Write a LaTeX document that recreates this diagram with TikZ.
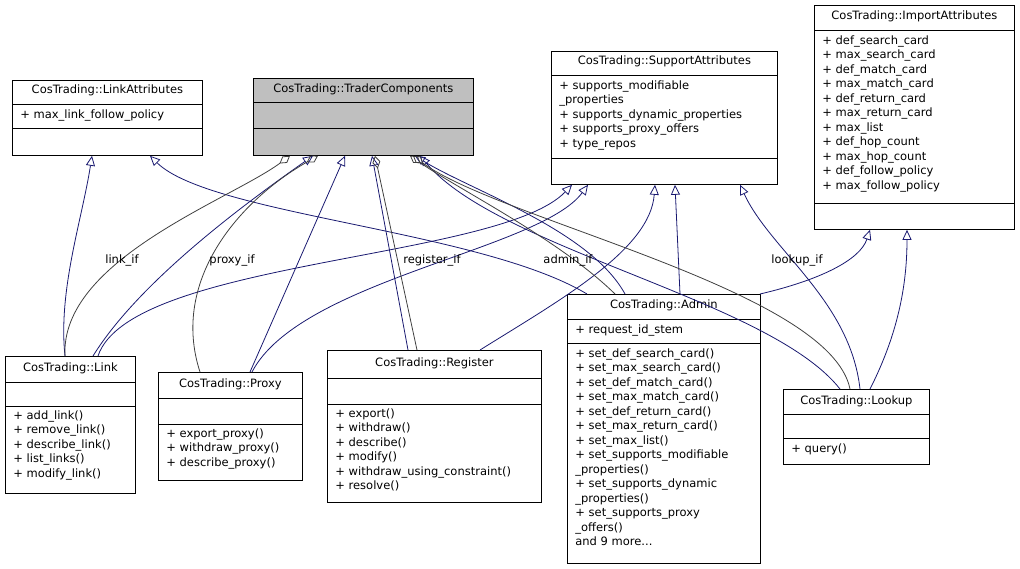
\documentclass[tikz,border=0pt]{standalone}
\usepackage{fontspec}
\setmainfont{DejaVu Sans}
\usetikzlibrary{arrows.meta}
\definecolor{inhcol}{RGB}{25,25,112}
\definecolor{usecol}{RGB}{64,64,64}
\definecolor{headcol}{RGB}{191,191,191}
\tikzset{
  every path/.style={line width=0.8pt},
  cls/.style={draw, anchor=north west, inner sep=0pt},
  txt/.style={anchor=north west, align=left, inner sep=0pt, font=\fontsize{11.5}{14.5}\selectfont},
  ttl/.style={anchor=north, inner sep=0pt, font=\fontsize{11.5}{14.5}\selectfont},
  inh/.style={inhcol, -{Triangle[open, length=10pt, width=9pt]}},
  use/.style={usecol, -{Diamond[open, length=13pt, width=8pt]}},
  lbl/.style={font=\fontsize{11.5}{13}\selectfont}
}
\begin{document}
\begin{tikzpicture}[x=1pt, y=-1pt]
    \useasboundingbox (0,0) rectangle (1020,568);

    % Classes
    \node[cls, minimum width=190, minimum height=75] (linkattr) at (12,80) {};
    \draw (12,104) -- (202,104) (12,128) -- (202,128);
    \node[ttl] at ([yshift=-4pt]linkattr.north) {CosTrading::LinkAttributes};
    \node[txt] at (20,109) {+ max\_link\_follow\_policy};

    \node[cls, fill=headcol, minimum width=220, minimum height=77] (tc) at (253,78) {};
    \draw (253,102) -- (473,102) (253,128) -- (473,128);
    \node[ttl] at ([yshift=-5pt]tc.north) {CosTrading::TraderComponents};

    \node[cls, minimum width=226, minimum height=133] (support) at (551,51) {};
    \draw (551,75) -- (777,75) (551,158) -- (777,158);
    \node[ttl] at ([yshift=-4pt]support.north) {CosTrading::SupportAttributes};
    \node[txt] at (559,80) {+ supports\_modifiable\\\_properties\\+ supports\_dynamic\_properties\\+ supports\_proxy\_offers\\+ type\_repos};

    \node[cls, minimum width=200, minimum height=224] (import) at (814,5) {};
    \draw (814,30) -- (1014,30) (814,203) -- (1014,203);
    \node[ttl] at ([yshift=-5pt]import.north) {CosTrading::ImportAttributes};
    \node[txt] at (822,35) {+ def\_search\_card\\+ max\_search\_card\\+ def\_match\_card\\+ max\_match\_card\\+ def\_return\_card\\+ max\_return\_card\\+ max\_list\\+ def\_hop\_count\\+ max\_hop\_count\\+ def\_follow\_policy\\+ max\_follow\_policy};

    \node[cls, minimum width=130, minimum height=137] (link) at (5,356) {};
    \draw (5,382) -- (135,382) (5,406) -- (135,406);
    \node[ttl] at ([yshift=-6pt]link.north) {CosTrading::Link};
    \node[txt] at (13,410) {+ add\_link()\\+ remove\_link()\\+ describe\_link()\\+ list\_links()\\+ modify\_link()};

    \node[cls, minimum width=144, minimum height=108] (proxy) at (158,372) {};
    \draw (158,398) -- (302,398) (158,424) -- (302,424);
    \node[ttl] at ([yshift=-6pt]proxy.north) {CosTrading::Proxy};
    \node[txt] at (166,428) {+ export\_proxy()\\+ withdraw\_proxy()\\+ describe\_proxy()};

    \node[cls, minimum width=214, minimum height=152] (register) at (327,350) {};
    \draw (327,378) -- (541,378) (327,404) -- (541,404);
    \node[ttl] at ([yshift=-7pt]register.north) {CosTrading::Register};
    \node[txt] at (335,408) {+ export()\\+ withdraw()\\+ describe()\\+ modify()\\+ withdraw\_using\_constraint()\\+ resolve()};

    \node[cls, minimum width=193, minimum height=269] (admin) at (567,294) {};
    \draw (567,319) -- (760,319) (567,343) -- (760,343);
    \node[ttl] at ([yshift=-5pt]admin.north) {CosTrading::Admin};
    \node[txt] at (575,324) {+ request\_id\_stem};
    \node[txt] at (575,348) {+ set\_def\_search\_card()\\+ set\_max\_search\_card()\\+ set\_def\_match\_card()\\+ set\_max\_match\_card()\\+ set\_def\_return\_card()\\+ set\_max\_return\_card()\\+ set\_max\_list()\\+ set\_supports\_modifiable\\\_properties()\\+ set\_supports\_dynamic\\\_properties()\\+ set\_supports\_proxy\\\_offers()\\and 9 more...};

    \node[cls, minimum width=146, minimum height=75] (lookup) at (783,389) {};
    \draw (783,414) -- (929,414) (783,438) -- (929,438);
    \node[ttl] at ([yshift=-6pt]lookup.north) {CosTrading::Lookup};
    \node[txt] at (791,443) {+ query()};

    % Inheritance
    \draw[inh] ([xshift=60]link.north west) .. controls (58,290) and (82,220) .. ([xshift=80]linkattr.south west);
    \draw[inh] ([xshift=20]admin.north west) .. controls (480,230) and (210,215) .. ([xshift=138]linkattr.south west);
    \draw[inh] ([xshift=88]link.north west) .. controls (140,280) and (250,200) .. ([xshift=60]tc.south west);
    \draw[inh] ([xshift=92]proxy.north west) -- ([xshift=92]tc.south west);
    \draw[inh] ([xshift=81]register.north west) -- ([xshift=119]tc.south west);
    \draw[inh] ([xshift=58]admin.north west) .. controls (590,230) and (470,190) .. ([xshift=162]tc.south west);
    \draw[inh] ([xshift=57]lookup.north west) .. controls (770,300) and (500,250) .. ([xshift=167]tc.south west);
    \draw[inh] ([xshift=93]link.north west) .. controls (130,260) and (500,260) .. ([xshift=21]support.south west);
    \draw[inh] ([xshift=94]proxy.north west) .. controls (300,280) and (540,250) .. ([xshift=37]support.south west);
    \draw[inh] ([xshift=153]register.north west) .. controls (560,300) and (650,250) .. ([xshift=104]support.south west);
    \draw[inh] ([xshift=113]admin.north west) -- ([xshift=124]support.south west);
    \draw[inh] ([xshift=77]lookup.north west) .. controls (850,300) and (770,250) .. ([xshift=189]support.south west);
    \draw[inh] ([xshift=193]admin.north west) .. controls (820,280) and (860,260) .. ([xshift=56]import.south west);
    \draw[inh] ([xshift=87]lookup.north west) .. controls (900,330) and (907,280) .. ([xshift=93]import.south west);

    % Usage
    \draw[use] ([xshift=60]link.north west) .. controls (60,260) and (230,200) .. ([xshift=37]tc.south west);
    \draw[use] ([xshift=42]proxy.north west) .. controls (170,280) and (240,200) .. ([xshift=65]tc.south west);
    \draw[use] ([xshift=90]register.north west) -- ([xshift=122]tc.south west);
    \draw[use] ([xshift=48]admin.north west) .. controls (560,240) and (460,190) .. ([xshift=157]tc.south west);
    \draw[use] ([xshift=67]lookup.north west) .. controls (830,290) and (500,220) .. ([xshift=160]tc.south west);
    \node[lbl] (linkif) at (122,260) {link\_if};
    \node[lbl] (proxyif) at (232,260) {proxy\_if};
    \node[lbl] (registerif) at (432,260) {register\_if};
    \node[lbl] (adminif) at (568,260) {admin\_if};
    \node[lbl] (lookupif) at (797,260) {lookup\_if};
\end{tikzpicture}
\end{document}
